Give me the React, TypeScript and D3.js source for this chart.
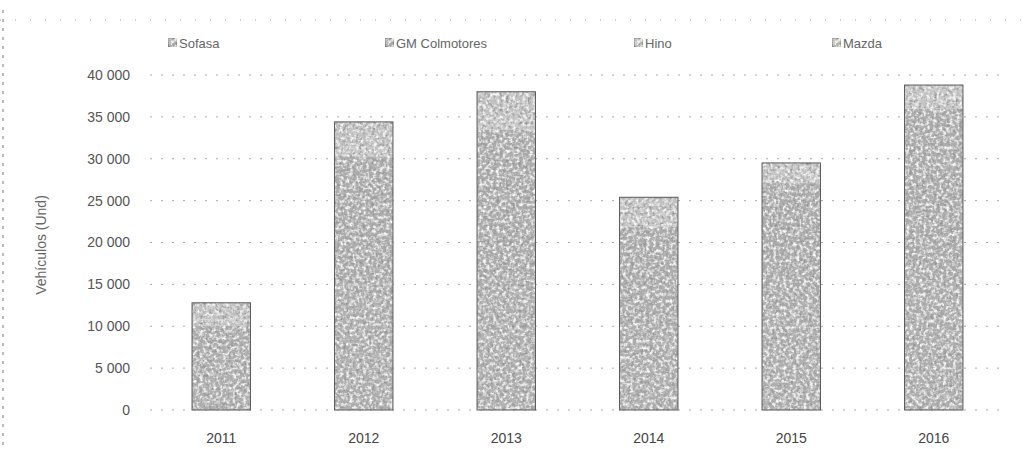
import * as d3 from 'd3';
import { useEffect, useRef } from 'react';

const years = ['2011', '2012', '2013', '2014', '2015', '2016'];
const seriesNames = ['Sofasa', 'GM Colmotores', 'Hino', 'Mazda'];
const sofasa = [6000, 15000, 16000, 10000, 12000, 16000];
const gm = [4100, 15200, 17500, 11900, 15100, 20000];
const hino = [700, 1200, 1500, 1500, 2400, 2800];
const mazda = [2000, 3000, 3000, 2000, 0, 0];
const yTicks = [0, 5000, 10000, 15000, 20000, 25000, 30000, 35000, 40000];

const fills = ['#b0b0b0', '#adadad', '#c6c6c6', '#c2c2c2'];

export default function App() {
  const ref = useRef<SVGSVGElement | null>(null);

  useEffect(() => {
    if (!ref.current) return;
    const width = 1026;
    const height = 449;
    const svg = d3.select(ref.current).attr('viewBox', `0 0 ${width} ${height}`);
    svg.selectAll('*').remove();

    const rows = years.map((y, i) => ({
      year: y,
      Sofasa: sofasa[i],
      'GM Colmotores': gm[i],
      Hino: hino[i],
      Mazda: mazda[i],
    }));
    const total = (d: any) => d.Sofasa + d['GM Colmotores'] + d.Hino + d.Mazda;

    const x = d3.scaleBand().domain(years).range([150, 1005]).paddingInner(0.59).paddingOuter(0.295);
    const y = d3.scaleLinear().domain([0, 40000]).range([410, 75]);
    const fmt = d3.formatLocale({ thousands: ' ', grouping: [3], decimal: ',', currency: ['', ''] }).format(',');
    const font = 'Liberation Sans, Arial, sans-serif';

    /* ---- grain filter to mimic the scan ---- */
    const defs = svg.append('defs');
    const f = defs.append('filter').attr('id', 'grain').attr('x', 0).attr('y', 0).attr('width', 1).attr('height', 1);
    f.append('feTurbulence').attr('type', 'fractalNoise').attr('baseFrequency', 0.32).attr('numOctaves', 2).attr('seed', 4).attr('result', 'noise');
    f.append('feColorMatrix').attr('in', 'noise').attr('type', 'matrix')
      .attr('values', '0 0 0 0 0.3  0 0 0 0 0.3  0 0 0 0 0.3  0 0 0 3.0 -1.45').attr('result', 'dots');
    f.append('feComposite').attr('in', 'dots').attr('in2', 'SourceGraphic').attr('operator', 'in').attr('result', 'dotsIn');
    f.append('feTurbulence').attr('type', 'fractalNoise').attr('baseFrequency', 0.3).attr('numOctaves', 2).attr('seed', 11).attr('result', 'noise2');
    f.append('feColorMatrix').attr('in', 'noise2').attr('type', 'matrix')
      .attr('values', '0 0 0 0 0.95  0 0 0 0 0.95  0 0 0 0 0.95  0 0 0 3.0 -1.3').attr('result', 'light');
    f.append('feComposite').attr('in', 'light').attr('in2', 'SourceGraphic').attr('operator', 'in').attr('result', 'lightIn');
    f.append('feMerge').call((m) => {
      m.append('feMergeNode').attr('in', 'SourceGraphic');
      m.append('feMergeNode').attr('in', 'lightIn');
      m.append('feMergeNode').attr('in', 'dotsIn');
    });

    /* ---- frame remnants ---- */
    svg.append('line').attr('x1', 3).attr('x2', 3).attr('y1', 10).attr('y2', height)
      .attr('stroke', '#777').attr('stroke-dasharray', '3,6');
    svg.append('line').attr('x1', 0).attr('x2', width).attr('y1', 20).attr('y2', 20)
      .attr('stroke', '#999').attr('stroke-dasharray', '1,14');

    /* ---- grid ---- */
    svg.append('g').selectAll('line').data(yTicks).enter().append('line')
      .attr('x1', 150).attr('x2', 1005)
      .attr('y1', (d) => y(d)).attr('y2', (d) => y(d))
      .attr('stroke', '#aaa').attr('stroke-dasharray', '2,9');

    /* ---- y labels ---- */
    svg.append('g').selectAll('text').data(yTicks).enter().append('text')
      .attr('x', 130).attr('y', (d) => y(d)).attr('dy', '0.35em')
      .attr('text-anchor', 'end').attr('font-family', font)
      .attr('font-size', 14).attr('fill', '#555').text((d) => fmt(d));

    svg.append('text')
      .attr('transform', `translate(46,245) rotate(-90)`)
      .attr('text-anchor', 'middle').attr('font-family', font)
      .attr('font-size', 14).attr('fill', '#666').text('Vehículos (Und)');

    /* ---- stacked bars ---- */
    const stacked = d3.stack<any>().keys(seriesNames)(rows);
    const bars = svg.append('g');
    stacked.forEach((s, si) => {
      bars.append('g').attr('fill', fills[si])
        .selectAll('rect').data(s.filter((d) => d[1] > d[0])).enter().append('rect')
        .attr('x', (d) => x(d.data.year)!)
        .attr('width', x.bandwidth())
        .attr('y', (d) => y(d[1]))
        .attr('height', (d) => y(d[0]) - y(d[1]))
        .attr('filter', 'url(#grain)');
    });
    bars.append('g').selectAll('rect').data(rows).enter().append('rect')
      .attr('x', (d) => x(d.year)!)
      .attr('width', x.bandwidth())
      .attr('y', (d) => y(total(d)))
      .attr('height', (d) => y(0) - y(total(d)))
      .attr('fill', 'none').attr('stroke', '#5a5a5a').attr('stroke-width', 1);

    /* ---- x labels ---- */
    svg.append('g').selectAll('text').data(years).enter().append('text')
      .attr('x', (d) => x(d)! + x.bandwidth() / 2).attr('y', 443)
      .attr('text-anchor', 'middle').attr('font-family', font)
      .attr('font-size', 14).attr('fill', '#444').text((d) => d);

    /* ---- legend ---- */
    const legendX = [168, 385, 634, 832];
    const lg = svg.append('g');
    seriesNames.forEach((name, i) => {
      const g = lg.append('g').attr('transform', `translate(${legendX[i]},43)`);
      g.append('rect').attr('x', 0).attr('y', -5).attr('width', 9).attr('height', 9)
        .attr('fill', fills[i]).attr('stroke', '#666').attr('filter', 'url(#grain)');
      g.append('text').attr('x', 11).attr('dy', '0.35em')
        .attr('font-family', font)
        .attr('font-size', 13).attr('fill', '#666').text(name);
    });
  }, []);

  return (
    <svg
      ref={ref}
      width={1026}
      height={449}
      style={{ position: 'absolute', left: 0, top: 0, background: '#fff' }}
    />
  );
}
